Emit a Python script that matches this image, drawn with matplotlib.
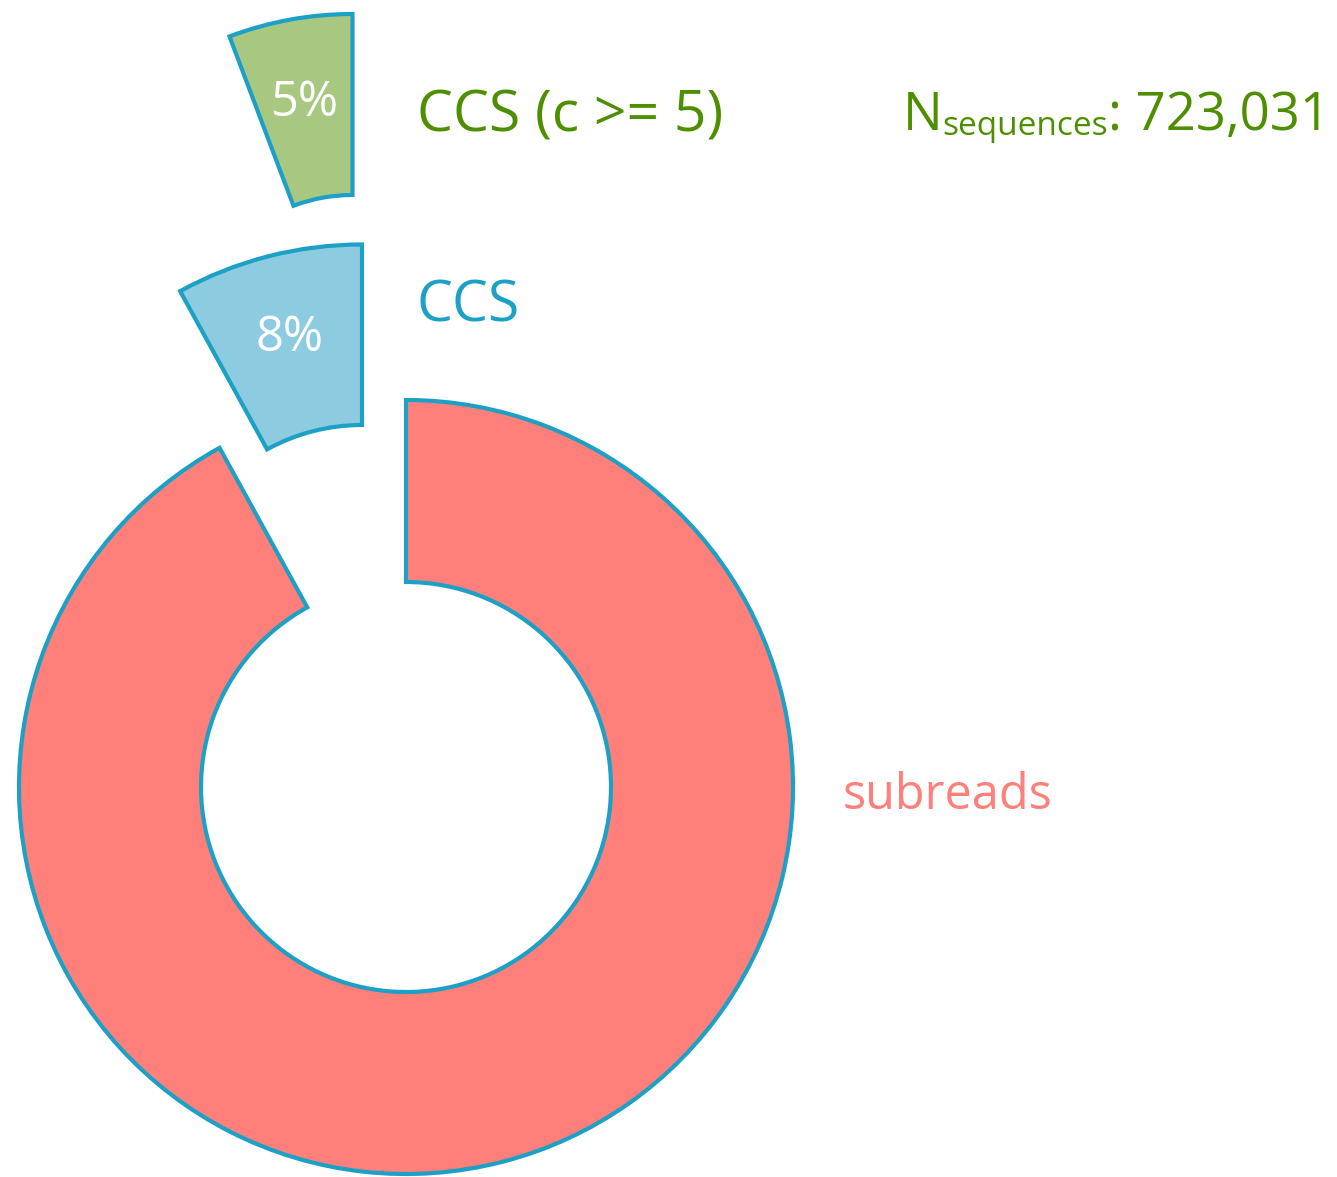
import matplotlib
matplotlib.use("Agg")
import matplotlib.pyplot as plt
from matplotlib.patches import Wedge
import numpy as np

# ── Data ──────────────────────────────────────────────────────────────────────
labels = ["subreads", "CCS", "CCS (c >= 5)"]
shares = [0.92, 0.08, 0.0575]          # fraction of the circle swept by each slice
pct_text = [None, "8%", "5%"]          # printed inside the slices
n_sequences = 723031

# ── Style ─────────────────────────────────────────────────────────────────────
plt.rcParams["font.family"] = ["Open Sans", "DejaVu Sans"]

C_EDGE = "#1DA0C6"
FILLS = ["#FF7F7A", "#8DCCE0", "#A8C882"]
C_TXT = ["#FF7F7A", "#1DA0C6", "#4E8F00"]
W, H = 1337, 1177

# ── Layout (pixel units, y up) ────────────────────────────────────────────────
CENTER = np.array([406.0, 390.0])
# offset of each slice from the main centre, inner / outer radius
OFFSETS = [(0, 0), (-44, 165), (-53.5, 425)]
R_IN = [205, 197, 167]
R_OUT = [387, 377.5, 348]
LABEL_POS = [(843, 368), (417, 855), (417, 1046)]   # left / baseline of names
LABEL_SIZE = [35, 41, 41]

fig = plt.figure(figsize=(W / 100, H / 100), dpi=100)
ax = fig.add_axes([0, 0, 1, 1])
ax.set_xlim(0, W)
ax.set_ylim(0, H)
ax.axis("off")

for i, share in enumerate(shares):
    sweep = 360 * share
    if i == 0:
        t1, t2 = 90 - sweep, 90      # clockwise from 12 o'clock
    else:
        t1, t2 = 90, 90 + sweep      # counter-clockwise from 12 o'clock
    c = CENTER + np.array(OFFSETS[i])
    ax.add_patch(Wedge(c, R_OUT[i], t1, t2, width=R_OUT[i] - R_IN[i],
                       facecolor=FILLS[i], edgecolor=C_EDGE, linewidth=3.0,
                       joinstyle="miter"))
    if pct_text[i]:
        mid = np.deg2rad((t1 + t2) / 2)
        r = R_IN[i] + 0.53 * (R_OUT[i] - R_IN[i])
        ax.text(c[0] + r * np.cos(mid), c[1] + r * np.sin(mid), pct_text[i],
                ha="center", va="center", fontsize=35, color="white")
    ax.text(LABEL_POS[i][0], LABEL_POS[i][1], labels[i], ha="left",
            va="baseline", fontsize=LABEL_SIZE[i], color=C_TXT[i])

# N_sequences annotation
t_n = ax.text(903, 1047, "N", ha="left", va="baseline", fontsize=38,
              color=C_TXT[2])
t_sub = ax.annotate("sequences", xy=(1, 0), xycoords=t_n, ha="left",
                    va="bottom", fontsize=24, color=C_TXT[2])
ax.annotate(f": {n_sequences:,}", xy=(1, 0), xycoords=t_sub, ha="left",
            va="bottom", fontsize=38, color=C_TXT[2])

fig.savefig("out.png", dpi=100, facecolor="white")
